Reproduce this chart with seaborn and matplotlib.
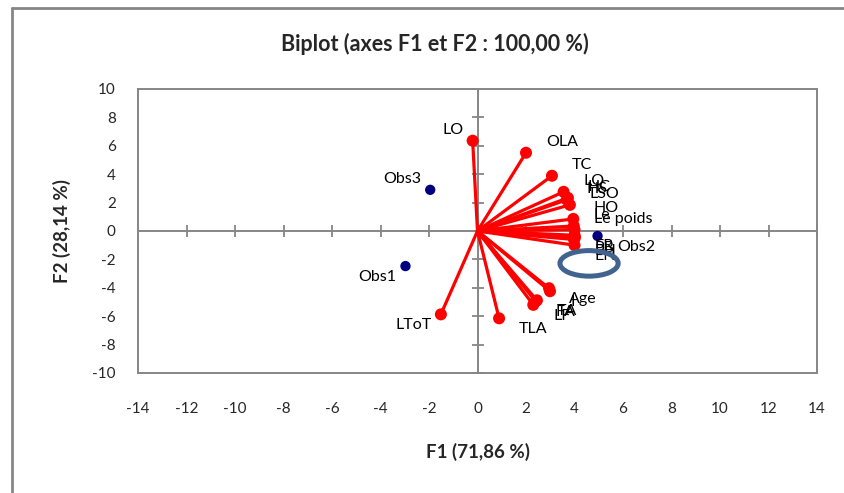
import numpy as np
import pandas as pd
import matplotlib
matplotlib.use("Agg")
import matplotlib.pyplot as plt
import seaborn as sns
from matplotlib.patches import Ellipse
from matplotlib.lines import Line2D

# ---- data ----
var_names = ["LO", "OLA", "TC", "LO", "HC", "HS", "LSO", "HO", "Le", "Le poids",
             "ER", "PB", "EN", "PH", "Age", "I", "TA", "FA", "LF", "TLA", "LToT"]
var_f1 = [-0.20, 2.00, 3.07, 3.55, 3.73, 3.68, 3.81, 3.95, 3.97, 4.00,
          4.00, 4.02, 4.00, 3.98, 2.95, 2.99, 2.45, 2.40, 2.30, 0.89, -1.51]
var_f2 = [6.36, 5.51, 3.89, 2.76, 2.33, 2.20, 1.84, 0.85, 0.35, 0.10,
          -0.30, -0.45, -1.00, -0.60, -4.03, -4.24, -4.88, -4.95, -5.20, -6.15, -5.87]

obs_names = ["Obs1", "Obs2", "Obs3"]
obs_f1 = [-2.97, 4.95, -1.95]
obs_f2 = [-2.47, -0.35, 2.90]

x_ticks = list(range(-14, 15, 2))
y_ticks = list(range(-10, 11, 2))

title = "Biplot (axes F1 et F2 : 100,00 %)"
xlabel = "F1 (71,86 %)"
ylabel = "F2 (28,14 %)"

# ---- figure ----
sns.set_theme(style="white")
plt.rcParams["font.family"] = ["Lato", "DejaVu Sans"]

W, H = 845, 493
fig = plt.figure(figsize=(W / 100, H / 100), dpi=100)
ax = fig.add_axes([138 / W, 1 - 373 / H, (817 - 138) / W, (373 - 89) / H])

grey = "#868686"

# vectors from the origin
df_var = pd.DataFrame({"name": var_names, "F1": var_f1, "F2": var_f2})
n_var = len(var_names)
seg = pd.concat([
    pd.DataFrame({"uid": range(n_var), "F1": 0.0, "F2": 0.0, "ord": 0}),
    pd.DataFrame({"uid": range(n_var), "F1": var_f1, "F2": var_f2, "ord": 1}),
]).sort_values(["uid", "ord"]).reset_index(drop=True)

# axes lines through origin, with cross ticks
ax.axhline(0, color=grey, lw=1.4, zorder=1)
ax.axvline(0, color=grey, lw=1.4, zorder=1)
ax.plot(x_ticks, np.zeros(len(x_ticks)), ls="none", marker="|", ms=8,
        mew=1.3, color=grey, zorder=1)
ax.plot(np.zeros(len(y_ticks)), y_ticks, ls="none", marker="_", ms=8,
        mew=1.3, color=grey, zorder=1)

sns.lineplot(data=seg, x="F1", y="F2", units="uid", estimator=None, sort=False,
             color="#FF0000", lw=2.3, ax=ax, zorder=3, legend=False)
sns.scatterplot(data=df_var, x="F1", y="F2", color="#FF0000", s=75,
                edgecolor="none", ax=ax, zorder=4, legend=False)

df_obs = pd.DataFrame({"name": obs_names, "F1": obs_f1, "F2": obs_f2})
sns.scatterplot(data=df_obs, x="F1", y="F2", color="#000080", s=55,
                edgecolor="none", ax=ax, zorder=4, legend=False)

def label(name, x, y):
    dx = 20 if x > 0 else -9
    dy = 4 if y > 0 else -4
    ax.annotate(name, (x, y), xytext=(dx, dy), textcoords="offset pixels",
                ha="left" if x > 0 else "right",
                va="bottom" if y > 0 else "top",
                fontsize=11.5, color="black", zorder=5)

for n, x, y in zip(var_names, var_f1, var_f2):
    label(n, x, y)
for n, x, y in zip(obs_names, obs_f1, obs_f2):
    label(n, x, y)

# highlighted ellipse
ax.add_patch(Ellipse((4.6, -2.28), 2.4, 1.8, fill=False, edgecolor="#41648F",
                     lw=3.6, zorder=6))

ax.set_xlim(-14, 14)
ax.set_ylim(-10, 10)
ax.set_xticks(x_ticks)
ax.set_yticks(y_ticks)
ax.set_xticklabels([str(t) for t in x_ticks])
ax.set_yticklabels([str(t) for t in y_ticks])
ax.tick_params(axis="x", length=0, pad=21, labelsize=11)
ax.tick_params(axis="y", length=0, pad=16, labelsize=11)
ax.set_xlabel("")
ax.set_ylabel("")
for s in ax.spines.values():
    s.set_color(grey)
    s.set_linewidth(1.4)
    s.set_visible(True)

fig.text(435 / W, 1 - 44 / H, title, ha="center", va="center",
         fontsize=15.5, fontweight="bold")
fig.text(478 / W, 1 - 452 / H, xlabel, ha="center", va="center",
         fontsize=13.5, fontweight="bold")
fig.text(62 / W, 1 - 231 / H, ylabel, ha="center", va="center",
         fontsize=13.5, fontweight="bold", rotation=90)

# outer chart border (left and top edges visible)
fig.add_artist(Line2D([12 / W, 12 / W], [0, 1 - 8 / H], color=grey, lw=2))
fig.add_artist(Line2D([12 / W, 1], [1 - 8 / H, 1 - 8 / H], color=grey, lw=2))

fig.savefig("out.png", dpi=100)
